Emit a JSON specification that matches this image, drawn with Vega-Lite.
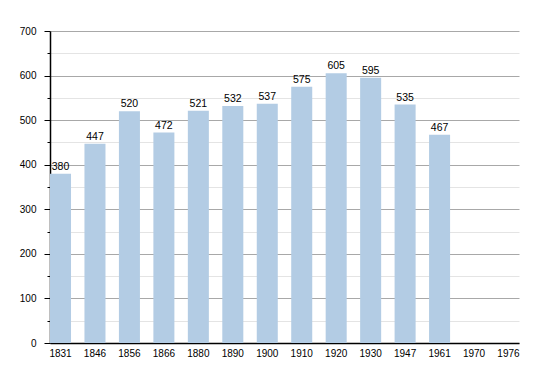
{
  "$schema": "https://vega.github.io/schema/vega-lite/v6.json",
  "autosize": {"type": "none"},
  "padding": {"left": 50, "top": 31, "right": 31, "bottom": 30},
  "width": 469,
  "height": 312,
  "background": "white",
  "config": {
    "view": {"stroke": null},
    "font": "Liberation Sans",
    "axis": {"labelFont": "Liberation Sans", "labelFontSize": 10, "labelColor": "#000"}
  },
  "data": {
    "values": [
      {"year": "1831", "pop": 380},
      {"year": "1846", "pop": 447},
      {"year": "1856", "pop": 520},
      {"year": "1866", "pop": 472},
      {"year": "1880", "pop": 521},
      {"year": "1890", "pop": 532},
      {"year": "1900", "pop": 537},
      {"year": "1910", "pop": 575},
      {"year": "1920", "pop": 605},
      {"year": "1930", "pop": 595},
      {"year": "1947", "pop": 535},
      {"year": "1961", "pop": 467},
      {"year": "1970", "pop": null},
      {"year": "1976", "pop": null}
    ]
  },
  "encoding": {
    "x": {
      "field": "year", "type": "nominal", "sort": null,
      "scale": {"domain": ["1831","1846","1856","1866","1880","1890","1900","1910","1920","1930","1947","1961","1970","1976"], "paddingInner": 0.39, "paddingOuter": 0},
      "axis": {"title": null, "labelAngle": 0, "ticks": false, "domainColor": "#000", "domainWidth": 1.5, "labelPadding": 5, "grid": false}
    },
    "y": {
      "field": "pop", "type": "quantitative",
      "scale": {"domain": [0, 700], "nice": false},
      "axis": {
        "title": null,
        "values": [0,50,100,150,200,250,300,350,400,450,500,550,600,650,700],
        "labelExpr": "datum.value % 100 === 0 ? datum.label : ''",
        "grid": true,
        "gridColor": {"condition": {"test": "datum.value % 100 === 0", "value": "#a8a8a8"}, "value": "#e4e4e4"},
        "tickSize": {"condition": {"test": "datum.value % 100 === 0", "value": 6}, "value": 3},
        "tickColor": "#000",
        "domainColor": "#000",
        "domainWidth": 1.5,
        "labelPadding": 8
      }
    }
  },
  "layer": [
    {"mark": {"type": "bar", "color": "#b3cce4", "align": "left"}},
    {"mark": {"type": "text", "baseline": "bottom", "dy": -2, "fontSize": 10.5, "color": "#000", "font": "Liberation Sans"},
     "encoding": {"text": {"field": "pop", "type": "quantitative"}}}
  ]
}
